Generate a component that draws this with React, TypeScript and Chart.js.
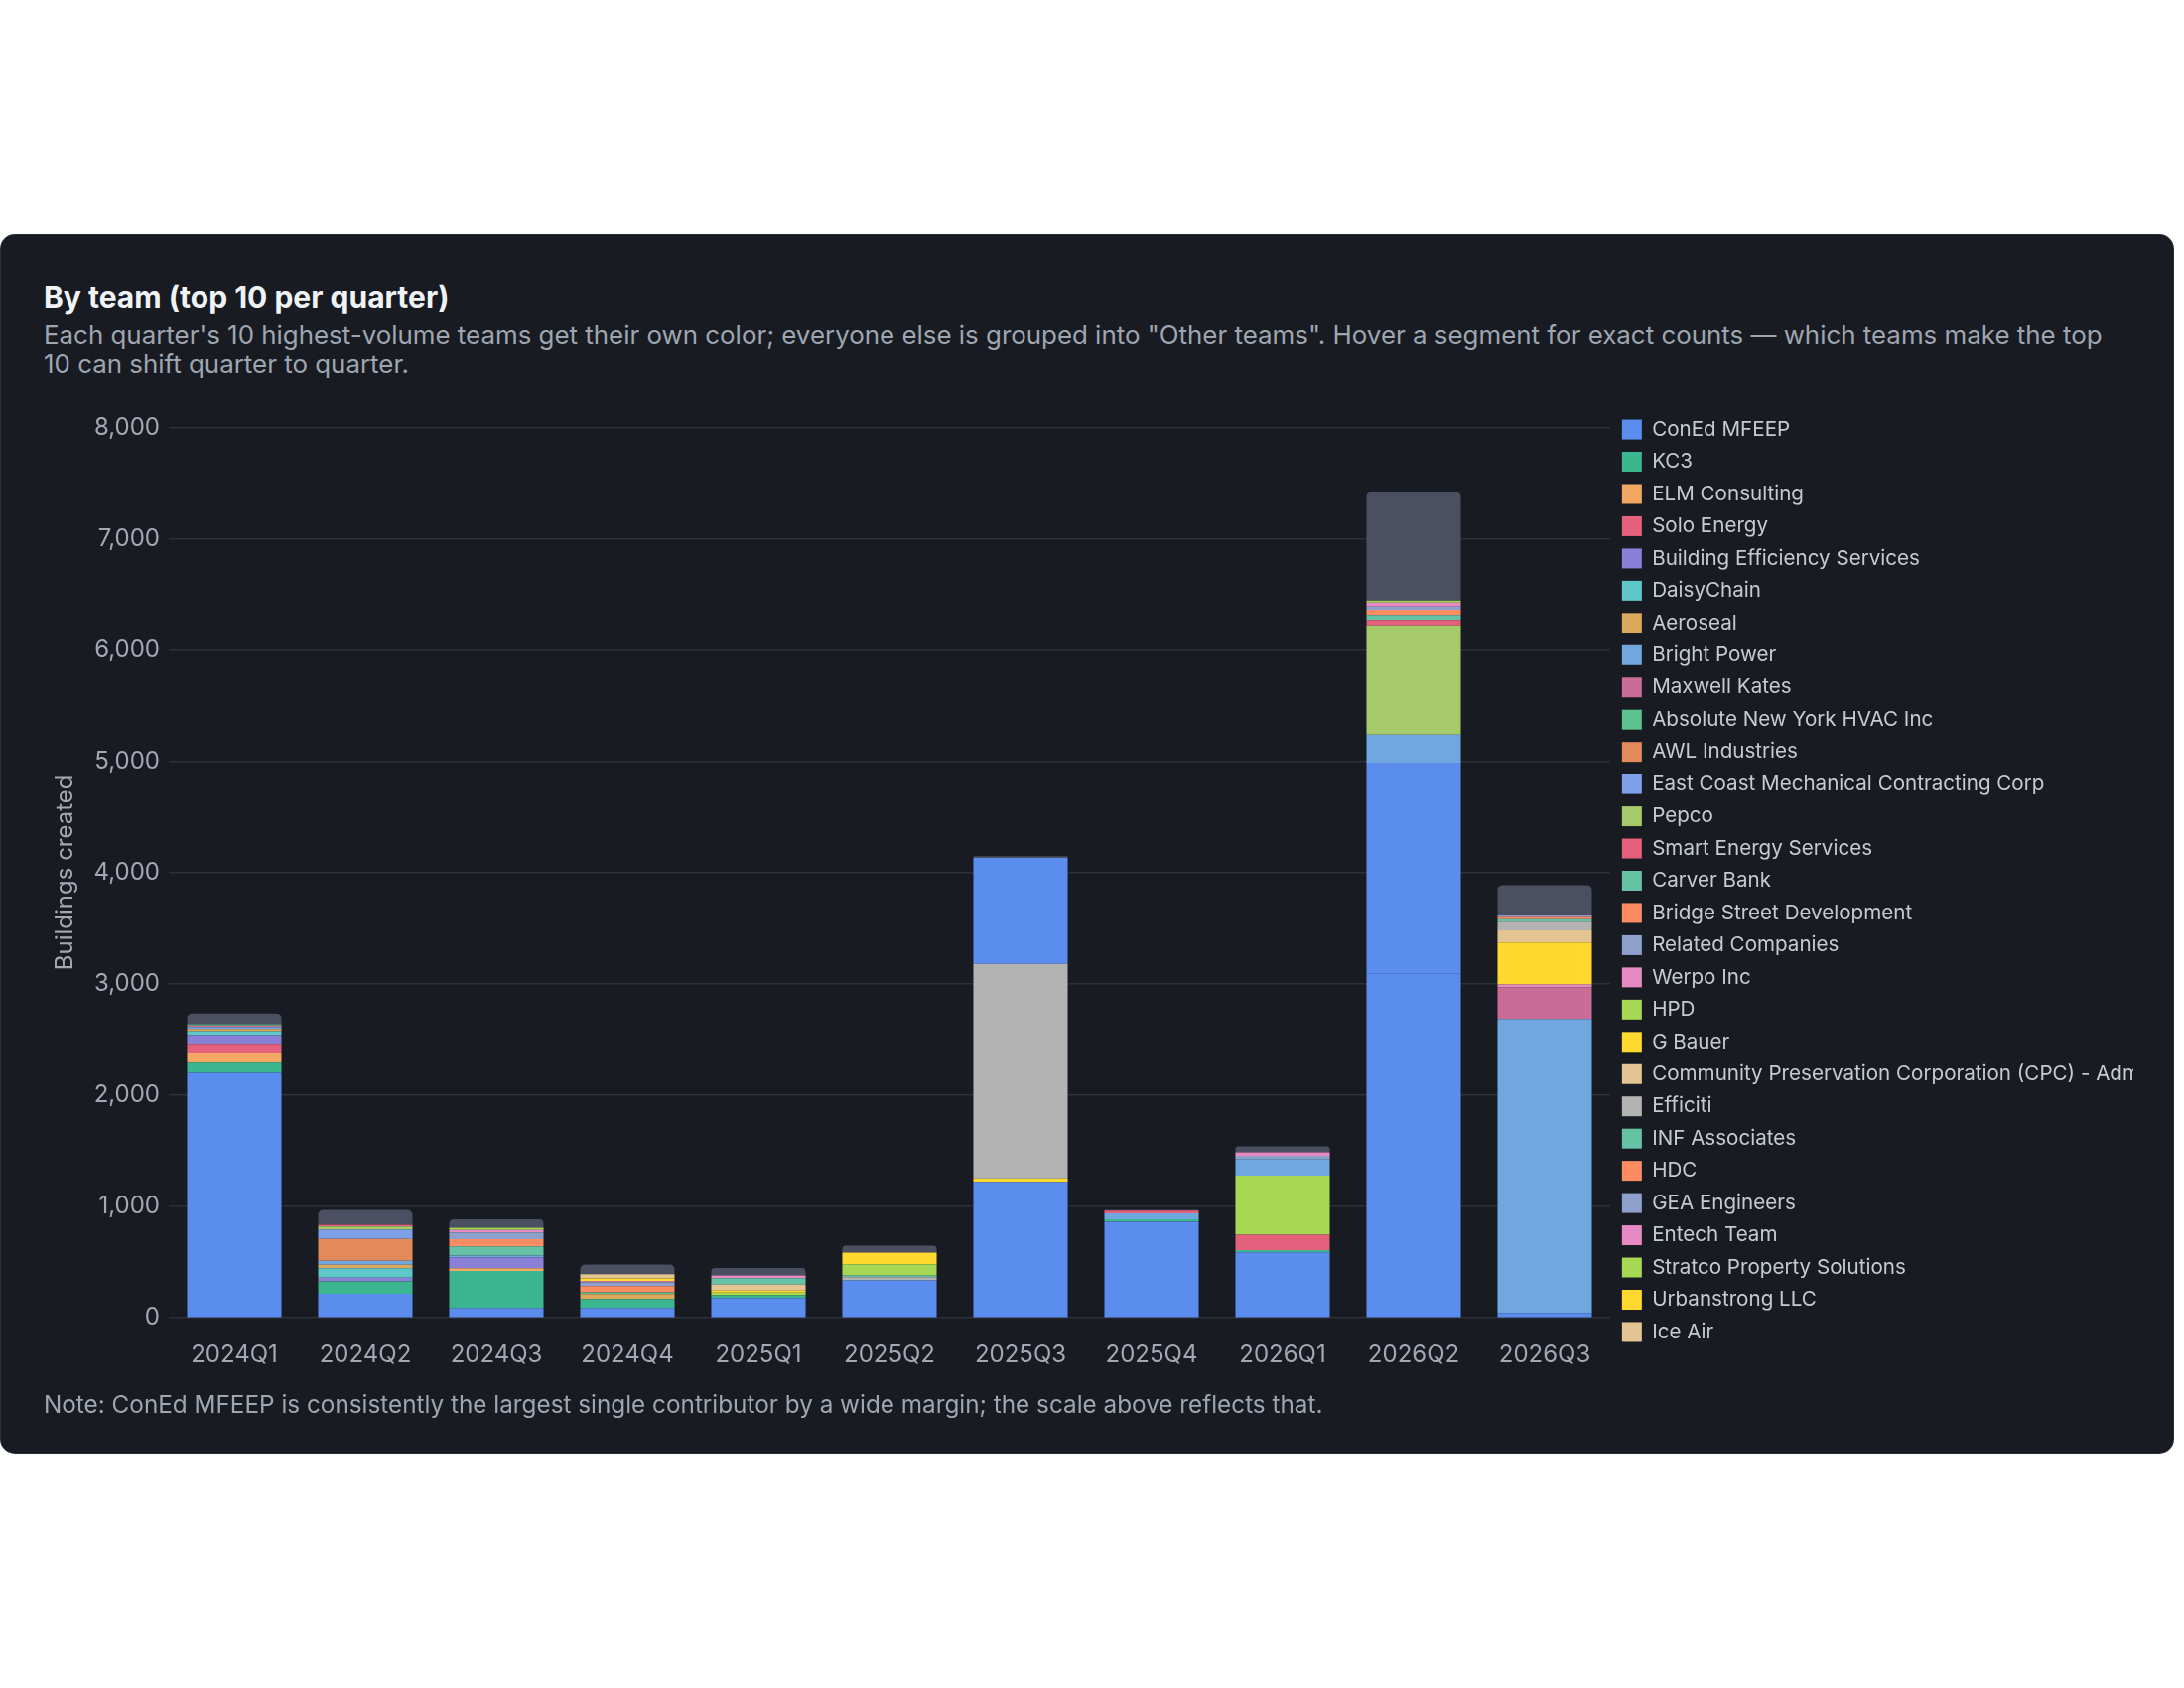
import React, { useEffect, useRef } from "react";
import { Chart, registerables } from "chart.js";

Chart.register(...registerables);

// ---------- data ----------
const quarters = ["2024Q1", "2024Q2", "2024Q3", "2024Q4", "2025Q1", "2025Q2", "2025Q3", "2025Q4", "2026Q1", "2026Q2", "2026Q3"];

const conEdMfeep = [2200, 217, 89, 89, 178, 336, 1222, 862, 589, 3095, 45];
const unlistedTeamA = [0, 0, 0, 0, 0, 0, 0, 0, 0, 1893, 0];
const kc3 = [92, 110, 333, 80, 24, 0, 0, 24, 20, 0, 0];
const elmConsulting = [92, 0, 24, 0, 0, 0, 0, 0, 0, 0, 0];
const soloEnergy = [77, 0, 0, 0, 0, 0, 0, 0, 0, 0, 0];
const buildingEfficiency = [78, 33, 95, 0, 0, 0, 0, 0, 0, 0, 0];
const daisyChain = [36, 86, 0, 0, 0, 0, 0, 0, 0, 0, 0];
const aeroseal = [20, 30, 0, 45, 0, 0, 0, 0, 0, 0, 0];
const brightPower = [18, 36, 18, 0, 0, 0, 0, 53, 0, 253, 2639];
const maxwellKates = [14, 0, 0, 0, 0, 0, 0, 0, 0, 0, 286];
const absoluteNyHvac = [12, 0, 0, 15, 0, 0, 0, 0, 0, 0, 0];
const awlIndustries = [0, 196, 0, 0, 0, 0, 0, 0, 0, 0, 0];
const eastCoastMechanical = [0, 83, 0, 0, 0, 0, 0, 0, 0, 0, 0];
const pepco = [0, 30, 0, 0, 0, 0, 0, 0, 0, 981, 0];
const smartEnergy = [0, 15, 0, 0, 0, 0, 0, 24, 137, 50, 0];
const carverBank = [0, 0, 83, 0, 0, 0, 0, 0, 0, 45, 0];
const bridgeStreet = [0, 0, 65, 56, 0, 0, 0, 0, 0, 45, 0];
const relatedCompanies = [0, 0, 59, 33, 0, 0, 0, 0, 0, 30, 0];
const werpoInc = [0, 0, 24, 12, 0, 0, 0, 0, 0, 36, 24];
const hpd = [0, 0, 20, 0, 24, 0, 0, 0, 532, 18, 0];
const unlistedTeamC = [0, 0, 0, 0, 0, 0, 0, 0, 149, 0, 0];
const gBauer = [0, 0, 0, 0, 20, 0, 30, 0, 0, 0, 378];
const cpcAdmin = [0, 0, 0, 0, 52, 0, 0, 0, 0, 0, 110];
const efficiti = [0, 0, 0, 0, 0, 30, 1929, 0, 0, 0, 78];
const infAssociates = [0, 0, 0, 0, 58, 15, 0, 0, 0, 0, 22];
const hdc = [0, 0, 0, 0, 0, 0, 0, 0, 0, 0, 20];
const geaEngineers = [0, 0, 0, 0, 0, 0, 0, 0, 30, 0, 12];
const entechTeam = [0, 0, 0, 0, 24, 0, 0, 0, 30, 0, 0];
const stratco = [0, 0, 0, 0, 0, 101, 0, 0, 0, 0, 0];
const urbanstrong = [0, 0, 0, 24, 0, 104, 0, 0, 0, 0, 0];
const iceAir = [0, 0, 0, 39, 0, 0, 0, 0, 0, 0, 0];
const unlistedTeamB = [0, 0, 0, 0, 0, 0, 951, 0, 0, 0, 0];
const otherTeams = [96, 134, 74, 86, 68, 62, 15, 6, 53, 974, 274];

const yTicks = [0, 1000, 2000, 3000, 4000, 5000, 6000, 7000, 8000];

// stacking order (bottom -> top)
const series: { label: string; color: string; data: number[] }[] = [
  { label: "ConEd MFEEP", color: "#5b8def", data: conEdMfeep },
  { label: "", color: "#5b8def", data: unlistedTeamA },
  { label: "KC3", color: "#3bb68e", data: kc3 },
  { label: "ELM Consulting", color: "#f2a763", data: elmConsulting },
  { label: "Solo Energy", color: "#e4607d", data: soloEnergy },
  { label: "Building Efficiency Services", color: "#8b80d8", data: buildingEfficiency },
  { label: "DaisyChain", color: "#5fc7c7", data: daisyChain },
  { label: "Aeroseal", color: "#dca85c", data: aeroseal },
  { label: "Bright Power", color: "#70a7de", data: brightPower },
  { label: "Maxwell Kates", color: "#c96c97", data: maxwellKates },
  { label: "Absolute New York HVAC Inc", color: "#5cc18f", data: absoluteNyHvac },
  { label: "AWL Industries", color: "#e28a59", data: awlIndustries },
  { label: "East Coast Mechanical Contracting Corp", color: "#7f9fe9", data: eastCoastMechanical },
  { label: "Pepco", color: "#a6c96a", data: pepco },
  { label: "Smart Energy Services", color: "#e4607d", data: smartEnergy },
  { label: "Carver Bank", color: "#66c2a5", data: carverBank },
  { label: "Bridge Street Development", color: "#fc8d62", data: bridgeStreet },
  { label: "Related Companies", color: "#8da0cb", data: relatedCompanies },
  { label: "Werpo Inc", color: "#e78ac3", data: werpoInc },
  { label: "HPD", color: "#a6d854", data: hpd },
  { label: "", color: "#70a7de", data: unlistedTeamC },
  { label: "G Bauer", color: "#ffd92f", data: gBauer },
  { label: "Community Preservation Corporation (CPC) - Admin", color: "#e5c494", data: cpcAdmin },
  { label: "Efficiti", color: "#b3b3b3", data: efficiti },
  { label: "INF Associates", color: "#66c2a5", data: infAssociates },
  { label: "HDC", color: "#fc8d62", data: hdc },
  { label: "GEA Engineers", color: "#8da0cb", data: geaEngineers },
  { label: "Entech Team", color: "#e78ac3", data: entechTeam },
  { label: "Stratco Property Solutions", color: "#a6d854", data: stratco },
  { label: "Urbanstrong LLC", color: "#ffd92f", data: urbanstrong },
  { label: "Ice Air", color: "#e5c494", data: iceAir },
  { label: "", color: "#5b8def", data: unlistedTeamB },
  { label: "Other teams", color: "#4a5062", data: otherTeams },
];

const FONT = "Inter, 'Noto Sans', 'DejaVu Sans', sans-serif";
const TICK = "#a2a9b3";
const GRID = "#2c3139";

function BarChart() {
  const ref = useRef<HTMLCanvasElement | null>(null);
  useEffect(() => {
    if (!ref.current) return;
    Chart.defaults.font.family = FONT;
    const chart = new Chart(ref.current, {
      type: "bar",
      data: {
        labels: quarters,
        datasets: series.map((s) => ({
          label: s.label,
          data: s.data,
          backgroundColor: s.color,
          borderWidth: 0,
          borderRadius: 5,
        })),
      },
      options: {
        responsive: true,
        maintainAspectRatio: false,
        animation: false,
        layout: { padding: 0 },
        plugins: {
          title: {
            display: true,
            text: "",
            font: { size: 10, lineHeight: 1 },
            padding: { top: 0, bottom: 48.5 },
          },
          legend: {
            position: "right",
            align: "center",
            maxWidth: 527,
            labels: {
              color: "#c5cbd3",
              boxWidth: 20,
              boxHeight: 20,
              padding: 11.86,
              font: { size: 20.6, family: FONT },
              filter: (item: any) => item.text !== "" && item.text !== "Other teams",
            },
          },
          tooltip: { enabled: true },
        },
        scales: {
          x: {
            stacked: true,
            grid: { display: false, drawTicks: false },
            border: { display: false },
            ticks: { color: TICK, font: { size: 24, family: FONT }, padding: 23 },
          },
          y: {
            stacked: true,
            min: 0,
            max: 8000,
            afterBuildTicks: (scale: any) => {
              scale.ticks = yTicks.map((v) => ({ value: v }));
            },
            afterFit: (scale: any) => {
              scale.width = 150;
            },
            grid: { color: GRID, drawTicks: false, lineWidth: 1.5 },
            border: { display: false },
            ticks: {
              color: TICK,
              font: { size: 24, family: FONT },
              padding: 9,
              callback: (v: any) => Number(v).toLocaleString("en-US"),
            },
            title: {
              display: true,
              text: "Buildings created",
              color: TICK,
              font: { size: 24, family: FONT },
              padding: { top: 31, bottom: 0 },
            },
          },
        },
      },
    });
    return () => chart.destroy();
  }, []);
  return (
    <div style={{ position: "absolute", left: 20, top: 371.5, width: 2129, height: 1030 }}>
      <canvas ref={ref} />
    </div>
  );
}

export default function App() {
  return (
    <div style={{ position: "absolute", left: 0, top: 0, width: 2200, height: 1700, background: "#ffffff", fontFamily: FONT }}>
      <div
        style={{
          position: "absolute",
          left: 1,
          top: 237,
          width: 2188,
          height: 1226,
          background: "#181b22",
          borderRadius: 14,
          boxShadow: "0 0 0 1px #2a2f37",
        }}
      />
      <div style={{ position: "absolute", left: 44, top: 281, fontSize: 30, lineHeight: "36px", fontWeight: 700, color: "#f0f3f6", whiteSpace: "nowrap" }}>
        By team (top 10 per quarter)
      </div>
      <div style={{ position: "absolute", left: 44, top: 322, fontSize: 25.9, lineHeight: "29.5px", color: "#9ea6b0", whiteSpace: "nowrap" }}>
        <div>Each quarter's 10 highest-volume teams get their own color; everyone else is grouped into "Other teams". Hover a segment for exact counts — which teams make the top</div>
        <div>10 can shift quarter to quarter.</div>
      </div>
      <BarChart />
      <div style={{ position: "absolute", left: 44, top: 1400, fontSize: 24.3, lineHeight: "29px", color: "#9ea6b0", whiteSpace: "nowrap" }}>
        Note: ConEd MFEEP is consistently the largest single contributor by a wide margin; the scale above reflects that.
      </div>
    </div>
  );
}
